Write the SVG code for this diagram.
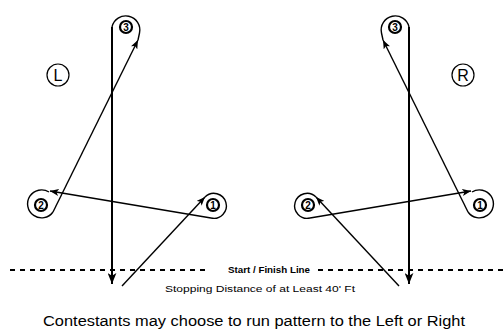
<svg xmlns="http://www.w3.org/2000/svg" width="503" height="334" viewBox="0 0 503 334">
<style>
.thin{fill:none;stroke:#000;stroke-width:1.4}
.thick{fill:none;stroke:#000;stroke-width:2}
.dash{fill:none;stroke:#000;stroke-width:2;stroke-dasharray:5 5}
.bc{fill:#fff;stroke:#000;stroke-width:2.2}
.bn{font-family:"Liberation Sans",Arial,sans-serif;font-weight:bold;font-size:10px;text-anchor:middle}
.side{fill:#fff;stroke:#000;stroke-width:1.2}
.st{font-family:"Liberation Sans",Arial,sans-serif;font-size:16px;text-anchor:middle}
.lbl{font-family:"Liberation Sans",Arial,sans-serif;font-size:8.5px}
.cap{font-family:"Liberation Sans",Arial,sans-serif;font-size:14px}
</style>
<defs>
<marker id="ah" viewBox="0 0 10 8" refX="10" refY="4" markerWidth="9" markerHeight="7" orient="auto" markerUnits="userSpaceOnUse"><path d="M0,0 L10,4 L0,8 L2.5,4 z" fill="#000"/></marker>
<marker id="ahb" viewBox="0 0 10 8" refX="10" refY="4" markerWidth="11" markerHeight="9" orient="auto" markerUnits="userSpaceOnUse"><path d="M0,0 L10,4 L0,8 L2.5,4 z" fill="#000"/></marker>
</defs>
<g id="connectors">
<g id="left-pattern">
<line class="thin" x1="122" y1="286" x2="205" y2="197" marker-end="url(#ah)"/>
<path class="thin" d="M205,197 A12.5,12.5 0 1 1 211,218"/>
<line class="thin" x1="211" y1="218" x2="50" y2="191" marker-end="url(#ah)"/>
<path class="thin" d="M49,192 A14,14 0 1 0 53,212"/>
<line class="thin" x1="53" y1="212" x2="138" y2="40" marker-end="url(#ah)"/>
<path class="thin" d="M138,40 L139.5,33 A14,14 0 1 0 112,27"/>
<line class="thick" x1="112" y1="27" x2="112" y2="284" marker-end="url(#ahb)"/>
</g>
<g id="right-pattern" transform="matrix(-1 0 0 1 521 0)">
<line class="thin" x1="122" y1="286" x2="205" y2="197" marker-end="url(#ah)"/>
<path class="thin" d="M205,197 A12.5,12.5 0 1 1 211,218"/>
<line class="thin" x1="211" y1="218" x2="50" y2="191" marker-end="url(#ah)"/>
<path class="thin" d="M49,192 A14,14 0 1 0 53,212"/>
<line class="thin" x1="53" y1="212" x2="138" y2="40" marker-end="url(#ah)"/>
<path class="thin" d="M138,40 L139.5,33 A14,14 0 1 0 112,27"/>
<line class="thick" x1="112" y1="27" x2="112" y2="284" marker-end="url(#ahb)"/>
</g>
</g>
<g id="finish-line">
<line class="dash" x1="10" y1="270" x2="207" y2="270"/>
<line class="dash" x1="318" y1="270" x2="503" y2="270"/>
<text class="lbl" x="228" y="273" font-weight="bold" textLength="82" lengthAdjust="spacingAndGlyphs">Start / Finish Line</text>
</g>
<g id="L-label"><circle class="side" cx="58" cy="75" r="11"/><text class="st" x="58" y="81">L</text></g>
<g id="R-label"><circle class="side" cx="463" cy="75" r="11"/><text class="st" x="463" y="81">R</text></g>
<g id="L-barrel-3"><circle class="bc" cx="126" cy="27" r="6"/><text class="bn" x="126" y="30.6">3</text></g>
<g id="L-barrel-2"><circle class="bc" cx="41" cy="205" r="6"/><text class="bn" x="41" y="208.6">2</text></g>
<g id="L-barrel-1"><circle class="bc" cx="213" cy="205" r="6"/><text class="bn" x="213" y="208.6">1</text></g>
<g id="R-barrel-3"><circle class="bc" cx="395" cy="27" r="6"/><text class="bn" x="395" y="30.6">3</text></g>
<g id="R-barrel-2"><circle class="bc" cx="308" cy="205" r="6"/><text class="bn" x="308" y="208.6">2</text></g>
<g id="R-barrel-1"><circle class="bc" cx="480" cy="205" r="6"/><text class="bn" x="480" y="208.6">1</text></g>
<text class="lbl" x="165" y="292" textLength="190" lengthAdjust="spacingAndGlyphs">Stopping Distance of at Least 40' Ft</text>
<text class="cap" x="43" y="326" textLength="422" lengthAdjust="spacingAndGlyphs">Contestants may choose to run pattern to the Left or Right</text>
</svg>
